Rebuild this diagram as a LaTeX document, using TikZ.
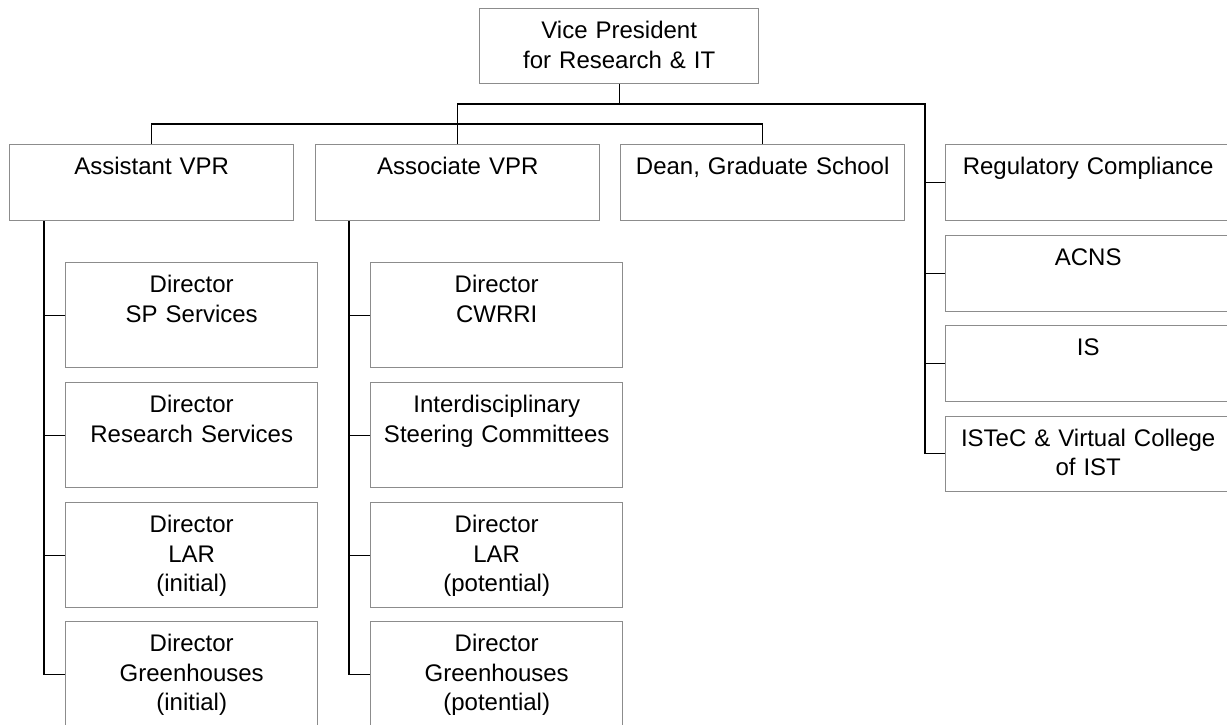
\documentclass[tikz,border=0pt]{standalone}
\usepackage{fontspec}
\setmainfont{Liberation Sans}
\usepackage{tikz}
\usetikzlibrary{calc}
\definecolor{edgegray}{HTML}{8C8C8C}
\tikzset{
  unit/.style={draw=edgegray,line width=1.4pt,fill=white,anchor=north west,
    inner xsep=0pt,inner ysep=0pt,align=center,text height=30pt,
    font=\fontsize{24pt}{29.5pt}\selectfont},
  top/.style={unit,text width=279pt,text depth=45pt},
  wide/.style={unit,text width=284pt,text depth=46pt},
  side/.style={unit,text width=285pt,text depth=46pt},
  sub/.style={unit,text width=252pt,text depth=75pt},
  link/.style={line width=1.4pt,black}
}

\begin{document}
\begin{tikzpicture}[x=1pt,y=-1pt]
\useasboundingbox (0,0) rectangle (1227,725);
% heads
\node[top] (vp) at (479,8) {Vice President\\for Research \& IT};
\node[wide] (asst) at (9,144) {Assistant VPR};
\node[wide] (assoc) at (315,144) {Associate VPR};
\node[wide] (dean) at (620,144) {Dean, Graduate School};
% right column
\node[side] (reg) at (945,144) {Regulatory Compliance};
\node[side] (acns) at (945,234.5) {ACNS};
\node[side] (is) at (945,325) {IS};
\node[side,text depth=45pt] (istec) at (945,415.5) {ISTeC \& Virtual College\\of IST};
% under assistant VPR
\node[sub] (sps) at (65,262) {Director\\SP Services};
\node[sub] (rs) at (65,382) {Director\\Research Services};
\node[sub] (lar1) at (65,502) {Director\\LAR\\(initial)};
\node[sub] (gh1) at (65,621) {Director\\Greenhouses\\(initial)};
% under associate VPR
\node[sub] (cwrri) at (370,262) {Director\\CWRRI};
\node[sub] (isc) at (370,382) {Interdisciplinary\\Steering Committees};
\node[sub] (lar2) at (370,502) {Director\\LAR\\(potential)};
\node[sub] (gh2) at (370,621) {Director\\Greenhouses\\(potential)};
% buses
\coordinate (rbus) at (925,104);
\coordinate (lbus) at (0,124);
\draw[link] (vp.south) -- (vp.south |- rbus);
\draw[link] (assoc.north) |- (rbus) -- (rbus |- istec.west) -- (istec.west);
\draw[link] (asst.north) |- (dean.north |- lbus) -- (dean.north);
\foreach \n in {reg,acns,is}
  \draw[link] (\n.west) -- (\n.west -| rbus);
% spines
\coordinate (lspine) at ($(asst.south west)+(35,0)$);
\coordinate (mspine) at ($(assoc.south west)+(34,0)$);
\draw[link] (lspine) |- (gh1.west);
\draw[link] (mspine) |- (gh2.west);
\foreach \n in {sps,rs,lar1}
  \draw[link] (\n.west) -- (\n.west -| lspine);
\foreach \n in {cwrri,isc,lar2}
  \draw[link] (\n.west) -- (\n.west -| mspine);
\end{tikzpicture}
\end{document}
